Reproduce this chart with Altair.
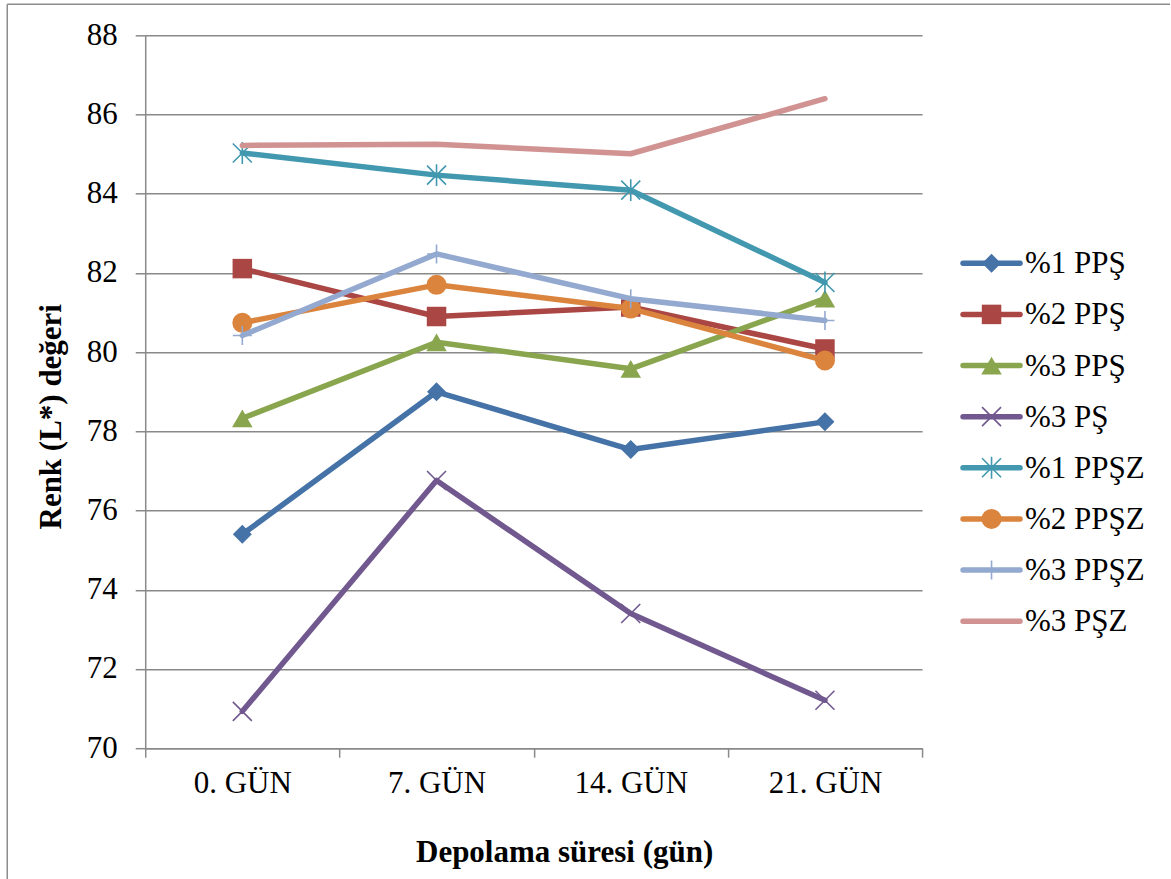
import altair as alt
import pandas as pd

days = ["0. GÜN", "7. GÜN", "14. GÜN", "21. GÜN"]
series = ["%1 PPŞ", "%2 PPŞ", "%3 PPŞ", "%3 PŞ", "%1 PPŞZ", "%2 PPŞZ", "%3 PPŞZ", "%3 PŞZ"]

v_1pps = [75.40, 79.00, 77.54, 78.24]
v_2pps = [82.11, 80.90, 81.14, 80.08]
v_3pps = [78.33, 80.25, 79.58, 81.35]
v_3ps = [70.93, 76.76, 73.40, 71.21]
v_1ppsz = [85.03, 84.47, 84.09, 81.76]
v_2ppsz = [80.74, 81.70, 81.10, 79.79]
v_3ppsz = [80.42, 82.48, 81.35, 80.80]
v_3psz = [85.22, 85.25, 85.01, 86.40]
values = [v_1pps, v_2pps, v_3pps, v_3ps, v_1ppsz, v_2ppsz, v_3ppsz, v_3psz]

colors = ["#4572A7", "#AA4643", "#89A54E", "#71588F", "#4198AF", "#DB843D", "#93A9CF", "#D19392"]

X_PATH = "M-1,-1L1,1M-1,1L1,-1"
AST_PATH = "M-1,-1L1,1M-1,1L1,-1M0,-1.15L0,1.15"
PLUS_PATH = "M-1,0L1,0M0,-1L0,1"
markers = [
    ("diamond", 361, True),
    ("square", 380, True),
    ("triangle-up", 420, True),
    (X_PATH, 361, False),
    (AST_PATH, 361, False),
    ("circle", 400, True),
    (PLUS_PATH, 361, False),
    (None, 0, False),
]

FONT = "Liberation Serif"
GRAY = "#898989"
LW = 5.5

rows = []
for s, vals in zip(series, values):
    for d, v in zip(days, vals):
        rows.append({"series": s, "day": d, "value": v})
df = pd.DataFrame(rows)

x_enc = alt.X(
    "day:N",
    sort=days,
    bandPosition=0.5,
    scale=alt.Scale(type="band", domain=days, paddingInner=0, paddingOuter=0),
    axis=alt.Axis(
        title="Depolama süresi (gün)",
        tickBand="extent",
        labelAngle=0,
        grid=False,
        tickSize=9,
        tickColor=GRAY,
        tickWidth=1.5,
        domainColor=GRAY,
        domainWidth=1.5,
        labelFont=FONT,
        labelFontSize=31,
        labelColor="black",
        labelPadding=11,
        titleFont=FONT,
        titleFontSize=31,
        titleFontWeight="bold",
        titleColor="black",
        titleX=419,
        titleY=113,
        titleBaseline="alphabetic",
        titleAlign="center",
    ),
)
y_enc = alt.Y(
    "value:Q",
    scale=alt.Scale(domain=[70, 88], nice=False, zero=False),
    axis=alt.Axis(
        title="Renk (L*) değeri",
        values=list(range(70, 89, 2)),
        grid=True,
        gridColor=GRAY,
        gridWidth=1.5,
        tickSize=10,
        tickColor=GRAY,
        tickWidth=1.5,
        domainColor=GRAY,
        domainWidth=1.5,
        labelFont=FONT,
        labelFontSize=31,
        labelColor="black",
        labelPadding=18,
        titleFont=FONT,
        titleFontSize=31,
        titleFontWeight="bold",
        titleColor="black",
        titleX=-94,
        titleY=381,
        titleBaseline="middle",
        titleAlign="center",
    ),
)

layers = []
for s, c, (shape, size, filled) in zip(series, colors, markers):
    sub = df[df["series"] == s]
    base = alt.Chart(sub)
    layers.append(
        base.mark_line(color=c, strokeWidth=LW, strokeCap="round", strokeJoin="round").encode(x=x_enc, y=y_enc)
    )
    if shape is not None:
        if filled:
            pm = base.mark_point(shape=shape, size=size, filled=True, color=c, opacity=1)
        else:
            pm = base.mark_point(shape=shape, size=size, filled=False, color=c, strokeWidth=1.6, opacity=1)
        layers.append(pm.encode(x=x_enc, y=y_enc))

border_df = pd.DataFrame({"k": [0]})
border_left = alt.Chart(border_df).mark_rule(color="#8c8c8c", strokeWidth=1.5).encode(
    x=alt.value(-138), y=alt.value(-31), y2=alt.value(844)
)
border_top = alt.Chart(border_df).mark_rule(color="#8c8c8c", strokeWidth=1.5).encode(
    x=alt.value(-138), x2=alt.value(1025), y=alt.value(-31)
)

main = alt.layer(border_left, border_top, *layers).properties(width=777, height=713)

# legend panel: rows numbered from the top
leg_df = pd.DataFrame({
    "series": series,
    "row": [7 - i for i in range(len(series))],
    "x0": 0.0, "x1": 1.0, "xm": 0.5,
})
leg_y = alt.Y("row:Q", scale=alt.Scale(domain=[-4.459, 11.458], nice=False, zero=False), axis=None)
leg_x_scale = alt.Scale(domain=[0, 1])

leg_layers = []
for s, c, (shape, size, filled) in zip(series, colors, markers):
    sub = leg_df[leg_df["series"] == s]
    base = alt.Chart(sub)
    leg_layers.append(
        base.mark_rule(color=c, strokeWidth=LW, strokeCap="round").encode(
            x=alt.X("x0:Q", scale=leg_x_scale, axis=None), x2="x1:Q", y=leg_y
        )
    )
    if shape is not None:
        if filled:
            pm = base.mark_point(shape=shape, size=size, filled=True, color=c, opacity=1)
        else:
            pm = base.mark_point(shape=shape, size=size, filled=False, color=c, strokeWidth=1.6, opacity=1)
        leg_layers.append(pm.encode(x=alt.X("xm:Q", scale=leg_x_scale, axis=None), y=leg_y))

leg_text = alt.Chart(leg_df).mark_text(
    align="left", baseline="middle", dx=5, dy=1, font=FONT, fontSize=31, color="black"
).encode(x=alt.X("x1:Q", scale=leg_x_scale, axis=None), y=leg_y, text="series:N")

legend = alt.layer(*leg_layers, leg_text).properties(width=57, height=814)

chart = (
    alt.hconcat(main, legend, spacing=41, bounds="flush")
    .properties(padding={"left": 6.25, "top": 3.25, "right": 0, "bottom": 0}, background="white")
    .configure_view(strokeWidth=0)
)

chart.save("out.html", embed_options={"renderer": "svg", "actions": False})
